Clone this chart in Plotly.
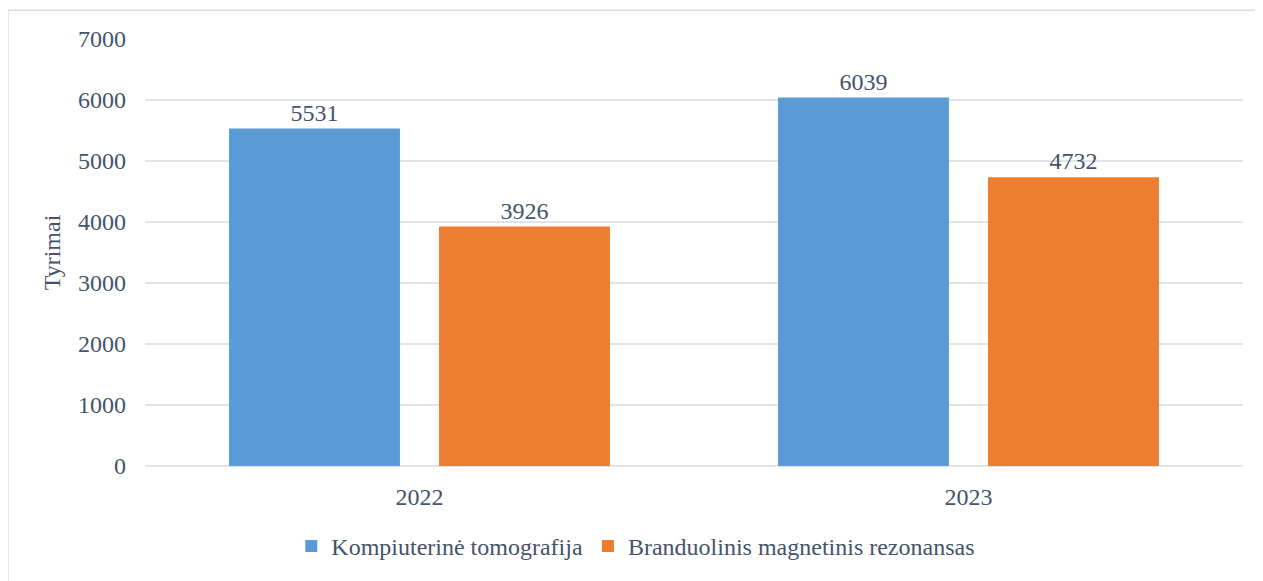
import plotly.graph_objects as go

years = ["2022", "2023"]
kt_values = [5531, 6039]
bmr_values = [3926, 4732]
series_names = ["Kompiuterinė tomografija", "Branduolinis magnetinis rezonansas"]
y_ticks = [0, 1000, 2000, 3000, 4000, 5000, 6000, 7000]

TEXT_COLOR = "#44546A"
FONT = "Liberation Serif, Times New Roman, serif"

fig = go.Figure()
fig.add_trace(go.Bar(
    x=years, y=kt_values, name=series_names[0],
    marker=dict(color="#5B9BD5", line=dict(width=0)),
    text=kt_values, textposition="outside",
    textfont=dict(size=24, color=TEXT_COLOR),
    cliponaxis=False,
))
fig.add_trace(go.Bar(
    x=years, y=bmr_values, name=series_names[1],
    marker=dict(color="#ED7D31", line=dict(width=0)),
    text=bmr_values, textposition="outside",
    textfont=dict(size=24, color=TEXT_COLOR),
    cliponaxis=False,
))

# chart frame (Excel-style light border, cut off at right/bottom)
fig.add_shape(
    type="rect", xref="paper", yref="paper",
    x0=-0.1248, x1=1.2, y0=-0.6, y1=1.0674,
    line=dict(color="#D9DEE6", width=1.5), layer="below",
)

# page body adds an 8px margin, so the figure is 8px smaller and shifted
fig.update_layout(
    width=1255, height=573,
    margin=dict(l=137, r=20, t=31, b=112),
    paper_bgcolor="white", plot_bgcolor="white",
    font=dict(family=FONT, size=24, color=TEXT_COLOR),
    barmode="group", bargap=0.235, bargroupgap=0.186,
    showlegend=True,
    legend=dict(
        orientation="h", x=0.447, xanchor="center", y=-0.188, yanchor="middle",
        font=dict(size=24, color=TEXT_COLOR), itemsizing="constant",
    ),
    xaxis=dict(
        showgrid=False, showline=False, ticks="", ticklabelstandoff=14,
        tickfont=dict(size=24, color=TEXT_COLOR),
    ),
    yaxis=dict(
        range=[0, 7000], tickvals=y_ticks, showgrid=True,
        gridcolor="#E1E5EA", gridwidth=1.5, zeroline=True,
        zerolinecolor="#E1E5EA", zerolinewidth=1.5, showline=False,
        ticks="", ticklabelstandoff=18,
        tickfont=dict(size=24, color=TEXT_COLOR),
        title=dict(text="Tyrimai", font=dict(size=24, color=TEXT_COLOR), standoff=10),
    ),
)

fig.write_html("out.html")
